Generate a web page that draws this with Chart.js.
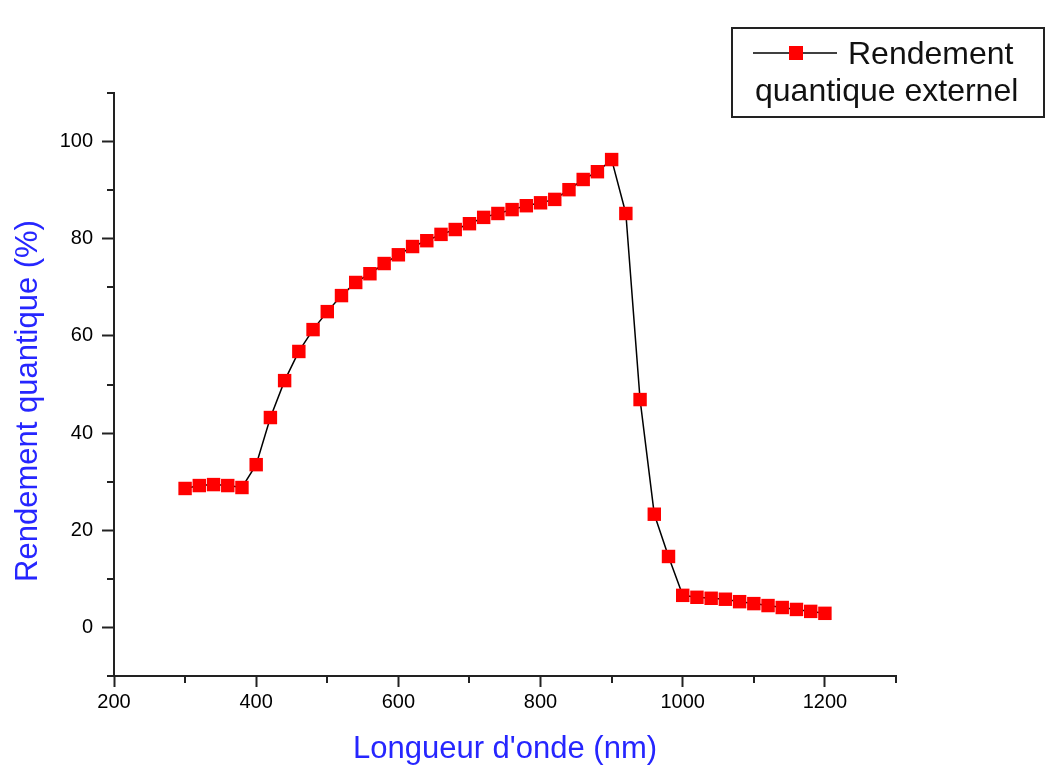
<!DOCTYPE html>
<html>
<head>
<meta charset="utf-8">
<script src="https://cdn.jsdelivr.net/npm/chart.js@4/dist/chart.umd.min.js"></script>
<style>
  html, body { margin: 0; padding: 0; background: #fff; }
  canvas { display: block; }
</style>
</head>
<body>
<canvas id="eqe" width="1054" height="767"></canvas>
<script>
var wavelengths = [300, 320, 340, 360, 380,
  400, 420, 440, 460, 480, 500, 520, 540, 560, 580,
  600, 620, 640, 660, 680, 700, 720, 740, 760, 780,
  800, 820, 840, 860, 880, 900, 920, 940, 960, 980,
  1000, 1020, 1040, 1060, 1080, 1100, 1120, 1140, 1160, 1180,
  1200]
var efficiency = [28.6, 29.2, 29.4, 29.2, 28.8,
  33.5, 43.2, 50.8, 56.8, 61.3, 65.0, 68.3, 71.0, 72.8, 74.9,
  76.7, 78.4, 79.6, 80.9, 81.9, 83.1, 84.4, 85.2, 86.0, 86.8,
  87.4, 88.1, 90.1, 92.2, 93.8, 96.3, 85.2, 46.9, 23.3, 14.6,
  6.6, 6.2, 6.0, 5.8, 5.3, 4.9, 4.5, 4.1, 3.7, 3.3,
  2.9]
var legendLines = ["Rendement", "quantique externel"]
var xTitle = "Longueur d'onde (nm)"
var yTitle = "Rendement quantique (%)"

var BLUE = "#2626ff"
var RED = "#ff0000"
var AXIS = "#222222"
var FONT = "'Liberation Sans', Arial, sans-serif"

var points = wavelengths.map(function (w, i) { return { x: w, y: efficiency[i] } })

// minor ticks, axis titles and the boxed legend
var extras = {
  id: 'extras',
  afterDraw: function (chart) {
    var ctx = chart.ctx
    var xs = chart.scales.x, ys = chart.scales.y
    ctx.save()

    ctx.strokeStyle = AXIS
    ctx.lineWidth = 2
    ctx.beginPath()
    xs.ticks.forEach(function (t) {
      if (t.value % 200 === 0) return
      var px = Math.round(xs.getPixelForValue(t.value))
      ctx.moveTo(px, xs.top); ctx.lineTo(px, xs.top + 7)
    })
    ys.ticks.forEach(function (t) {
      if (t.value % 20 === 0) return
      var py = Math.round(ys.getPixelForValue(t.value))
      ctx.moveTo(ys.right, py); ctx.lineTo(ys.right - 7, py)
    })
    ctx.stroke()

    ctx.fillStyle = BLUE
    ctx.font = "31px " + FONT
    ctx.textAlign = "center"
    ctx.textBaseline = "middle"
    ctx.fillText(xTitle, (chart.chartArea.left + chart.chartArea.right) / 2, 749)
    ctx.translate(28, 401)
    ctx.rotate(-Math.PI / 2)
    ctx.fillText(yTitle, 0, 0)
    ctx.setTransform(1, 0, 0, 1, 0, 0)

    // legend
    ctx.lineWidth = 2
    ctx.strokeStyle = "#222"
    ctx.strokeRect(732, 28, 312, 89)
    ctx.lineWidth = 1.5
    ctx.strokeStyle = "#000"
    ctx.beginPath()
    ctx.moveTo(753, 53); ctx.lineTo(837, 53)
    ctx.stroke()
    ctx.fillStyle = RED
    ctx.fillRect(789, 46, 14, 14)
    ctx.fillStyle = "#111"
    ctx.font = "32px " + FONT
    ctx.textAlign = "left"
    ctx.textBaseline = "alphabetic"
    ctx.fillText(legendLines[0], 848, 64)
    ctx.fillText(legendLines[1], 755, 101)

    ctx.restore()
  }
}

new Chart(document.getElementById("eqe"), {
  type: 'line',
  data: {
    datasets: [{
      label: legendLines.join(' '),
      data: points,
      borderColor: '#000',
      borderWidth: 1.5,
      tension: 0,
      pointStyle: 'rect',
      pointRadius: 9.5,
      pointHoverRadius: 9.5,
      pointBackgroundColor: RED,
      pointBorderColor: RED,
      pointBorderWidth: 0
    }]
  },
  options: {
    responsive: false,
    animation: false,
    devicePixelRatio: 1,
    layout: { padding: { left: 0, right: 158, top: 93, bottom: 0 } },
    plugins: { legend: { display: false }, tooltip: { enabled: false } },
    scales: {
      x: {
        type: 'linear',
        min: 200,
        max: 1300,
        afterFit: function (s) { s.height = 91 },
        border: { color: AXIS, width: 2 },
        grid: {
          drawOnChartArea: false,
          tickLength: 11,
          tickWidth: 2,
          tickColor: function (c) { return c.tick && c.tick.value % 200 === 0 ? AXIS : 'rgba(0,0,0,0)' }
        },
        ticks: {
          stepSize: 100,
          autoSkip: false,
          maxRotation: 0,
          padding: 3,
          color: '#000',
          font: { size: 20, family: FONT },
          callback: function (v) { return v % 200 === 0 ? v : '' }
        }
      },
      y: {
        min: -10,
        max: 110,
        afterFit: function (s) { s.width = 114 },
        border: { color: AXIS, width: 2 },
        grid: {
          drawOnChartArea: false,
          tickLength: 12,
          tickWidth: 2,
          tickColor: function (c) { return c.tick && c.tick.value % 20 === 0 ? AXIS : 'rgba(0,0,0,0)' }
        },
        ticks: {
          stepSize: 10,
          autoSkip: false,
          padding: 9,
          color: '#000',
          font: { size: 20, family: FONT },
          callback: function (v) { return v % 20 === 0 ? v : '' }
        }
      }
    }
  },
  plugins: [extras]
})
</script>
</body>
</html>
